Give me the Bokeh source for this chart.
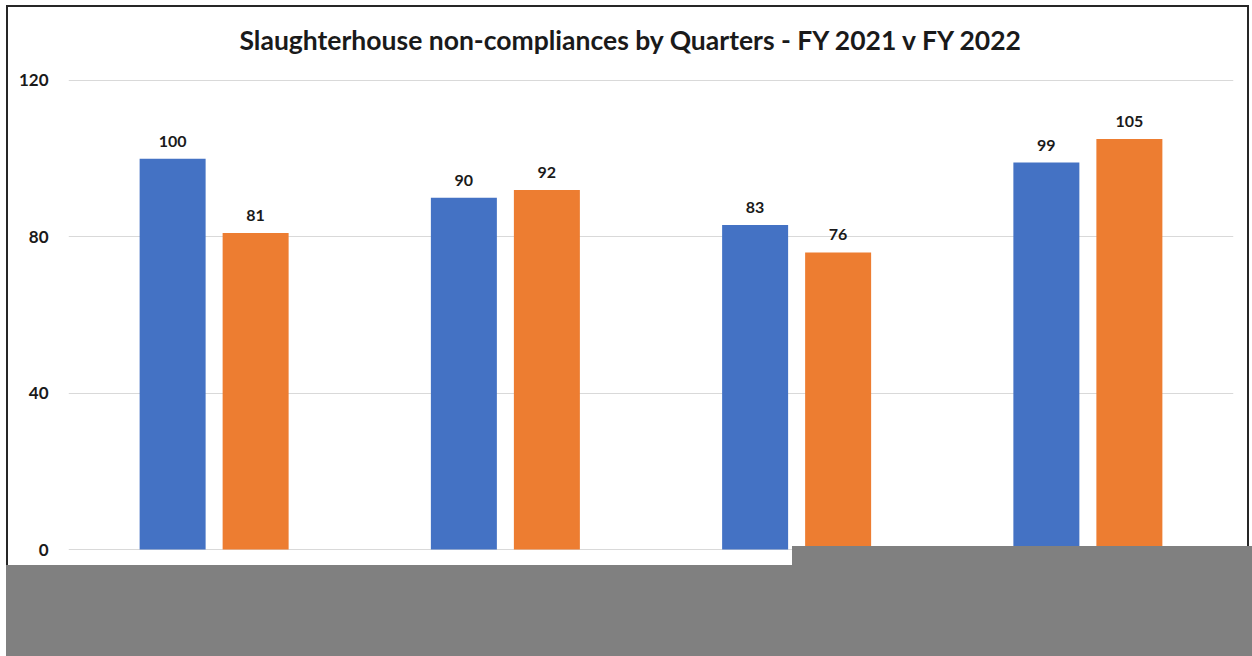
from bokeh.plotting import figure
from bokeh.models import ColumnDataSource, LabelSet, FixedTicker, Range1d, InlineStyleSheet
from bokeh.transform import dodge
from bokeh.core.properties import value
from bokeh.embed import file_html
from bokeh.resources import INLINE

quarters = ["Q1", "Q2", "Q3", "Q4"]
fy2021 = [100, 90, 83, 99]
fy2022 = [81, 92, 76, 105]
y_ticks = [0, 40, 80, 120]
title_text = "Slaughterhouse non-compliances by Quarters - FY 2021 v FY 2022"

BLUE = "#4472C4"
ORANGE = "#ED7D31"
FONT = "Lato"

src = ColumnDataSource(dict(q=quarters, a=fy2021, b=fy2022,
                            la=[str(v) for v in fy2021], lb=[str(v) for v in fy2022]))

W, H = 1252, 656
p = figure(x_range=quarters, y_range=Range1d(-0.5, 120.5), width=W, height=H,
           output_backend="svg", toolbar_location=None, title=title_text,
           min_border_left=68, min_border_right=19, min_border_top=78, min_border_bottom=105)
p.outline_line_color = None
p.background_fill_color = "white"
p.border_fill_color = "white"

p.title.text_font = FONT
p.title.text_font_style = "bold"
p.title.text_font_size = "26.5px"
p.title.text_color = "#1a1a1a"
p.title.align = "left"
p.title.offset = 171
p.title.vertical_align = "middle"
p.title.standoff = 44

bw = 0.2266
off = 0.1425
p.vbar(x=dodge("q", -off, range=p.x_range), top="a", width=bw, source=src,
       fill_color=BLUE, line_color=None)
p.vbar(x=dodge("q", off, range=p.x_range), top="b", width=bw, source=src,
       fill_color=ORANGE, line_color=None)

for col, lab, o in (("a", "la", -off), ("b", "lb", off)):
    p.add_layout(LabelSet(x=dodge("q", o, range=p.x_range), y=col, text=lab, source=src,
                          text_align="center", text_baseline="bottom", y_offset=12,
                          text_font=value(FONT), text_font_style="bold",
                          text_font_size="16px", text_color="#1a1a1a"))

p.xaxis.visible = False
p.xgrid.grid_line_color = None
p.ygrid.grid_line_color = "#d9d9d9"
p.ygrid.grid_line_width = 1
p.yaxis.ticker = FixedTicker(ticks=y_ticks)
p.yaxis.axis_line_color = None
p.yaxis.major_tick_line_color = None
p.yaxis.major_tick_out = 0
p.yaxis.major_tick_in = 0
p.yaxis.minor_tick_line_color = None
p.yaxis.major_label_text_font = FONT
p.yaxis.major_label_text_font_style = "bold"
p.yaxis.major_label_text_font_size = "17px"
p.yaxis.major_label_text_color = "#1a1a1a"
p.yaxis.major_label_standoff = 20

# outer border of the chart image and the grey redaction block (page decoration)
css = """
:host { position: relative; }
:host::before {
  content: ""; position: absolute; left: 6px; top: 5px; width: 1243px; height: 660px;
  border: 2px solid #262626; box-sizing: border-box; z-index: 10; pointer-events: none;
}
:host::after {
  content: ""; position: absolute; left: 0; top: 0; width: 1252px; height: 656px;
  background: #808080; z-index: 11; pointer-events: none;
  clip-path: polygon(6px 565px, 792px 565px, 792px 546px, 1252px 546px, 1252px 656px, 6px 656px);
}
"""
p.stylesheets = [InlineStyleSheet(css=css)]

open("out.html", "w").write(file_html(p, INLINE))
